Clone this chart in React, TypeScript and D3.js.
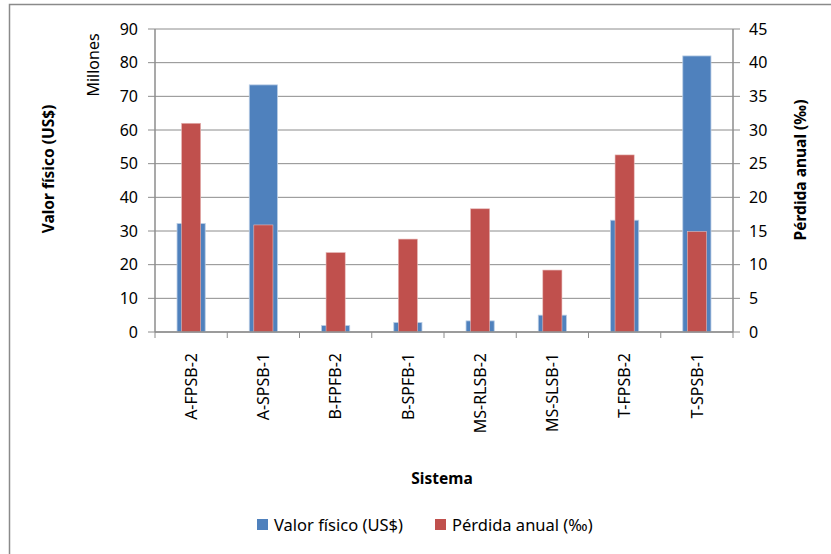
import * as d3 from "d3";
import React from "react";

const categories = [
  "A-FPSB-2",
  "A-SPSB-1",
  "B-FPFB-2",
  "B-SPFB-1",
  "MS-RLSB-2",
  "MS-SLSB-1",
  "T-FPSB-2",
  "T-SPSB-1",
];
// Valor físico (US$), millones
const valorFisico = [32.2, 73.4, 1.9, 2.8, 3.3, 5.0, 33.2, 82.0];
// Pérdida anual (‰)
const perdidaAnual = [31.0, 15.9, 11.8, 13.8, 18.3, 9.2, 26.3, 14.9];
const leftTicks = [0, 10, 20, 30, 40, 50, 60, 70, 80, 90];
const rightTicks = [0, 5, 10, 15, 20, 25, 30, 35, 40, 45];

const W = 831;
const H = 554;
const plot = { left: 155, right: 733, top: 29, bottom: 332 };
const font = "'Noto Sans', 'Open Sans', sans-serif";
const blue = "#4F81BD";
const red = "#C0504D";
const grid = "#8C8C8C";

const App = () => {
  const x = d3
    .scaleBand()
    .domain(categories)
    .range([plot.left, plot.right])
    .padding(0);
  const yL = d3.scaleLinear().domain([0, 90]).range([plot.bottom, plot.top]);
  const yR = d3.scaleLinear().domain([0, 45]).range([plot.bottom, plot.top]);

  const bw = x.bandwidth();
  const blueW = bw * 0.39;
  const redW = bw * 0.265;

  return (
    <svg
      width={W}
      height={H}
      style={{ position: "absolute", left: 0, top: 0, background: "#fff" }}
      fontFamily={font}
    >
      {/* frame */}
      <rect x={9.5} y={4.5} width={W} height={H} fill="none" stroke="#8a8a8a" strokeWidth={1.5} />

      {/* gridlines */}
      {leftTicks.map((t) => (
        <line key={"g" + t} x1={plot.left} x2={plot.right} y1={yL(t)} y2={yL(t)} stroke={grid} strokeWidth={1} />
      ))}

      {/* bars */}
      {categories.map((c, i) => {
        const cx = (x(c) as number) + bw / 2;
        return (
          <g key={c}>
            <rect
              x={cx - blueW / 2}
              y={yL(valorFisico[i])}
              width={blueW}
              height={plot.bottom - yL(valorFisico[i])}
              fill={blue}
              stroke="#b8cce4"
              strokeWidth={0.8}
            />
            <rect
              x={cx - redW / 2}
              y={yR(perdidaAnual[i])}
              width={redW}
              height={plot.bottom - yR(perdidaAnual[i])}
              fill={red}
              stroke="#e6b9b8"
              strokeWidth={0.6}
            />
          </g>
        );
      })}

      {/* axes */}
      <line x1={plot.left} x2={plot.left} y1={plot.top} y2={plot.bottom} stroke={grid} strokeWidth={1.5} />
      <line x1={plot.right} x2={plot.right} y1={plot.top} y2={plot.bottom} stroke={grid} strokeWidth={1.5} />
      <line x1={plot.left} x2={plot.right} y1={plot.bottom} y2={plot.bottom} stroke={grid} strokeWidth={1.5} />

      {leftTicks.map((t) => (
        <g key={"l" + t}>
          <line x1={plot.left - 7} x2={plot.left} y1={yL(t)} y2={yL(t)} stroke={grid} strokeWidth={1} />
          <text x={138} y={yL(t)} dy="0.36em" textAnchor="end" fontSize={16} fill="#000">
            {t}
          </text>
        </g>
      ))}
      {rightTicks.map((t) => (
        <g key={"r" + t}>
          <line x1={plot.right} x2={plot.right + 7} y1={yR(t)} y2={yR(t)} stroke={grid} strokeWidth={1} />
          <text x={749} y={yR(t)} dy="0.36em" textAnchor="start" fontSize={16} fill="#000">
            {t}
          </text>
        </g>
      ))}

      {/* category ticks and labels */}
      {categories.map((c) => (
        <line
          key={"t" + c}
          x1={x(c) as number}
          x2={x(c) as number}
          y1={plot.bottom}
          y2={plot.bottom + 6}
          stroke={grid}
          strokeWidth={1}
        />
      ))}
      <line x1={plot.right} x2={plot.right} y1={plot.bottom} y2={plot.bottom + 6} stroke={grid} strokeWidth={1} />
      {categories.map((c) => {
        const cx = (x(c) as number) + bw / 2;
        return (
          <text
            key={"c" + c}
            transform={`translate(${cx},353) rotate(-90)`}
            dy="0.36em"
            textAnchor="end"
            fontSize={16}
            fill="#000"
          >
            {c}
          </text>
        );
      })}

      {/* axis titles */}
      <text transform="translate(48,169) rotate(-90)" dy="0.36em" textAnchor="middle" fontSize={15.5} fontWeight="bold">
        Valor físico  (US$)
      </text>
      <text transform="translate(93,65) rotate(-90)" dy="0.36em" textAnchor="middle" fontSize={16}>
        Millones
      </text>
      <text transform="translate(800,170) rotate(-90)" dy="0.36em" textAnchor="middle" fontSize={15.5} fontWeight="bold">
        Pérdida anual (‰)
      </text>
      <text x={442} y={478} dy="0.36em" textAnchor="middle" fontSize={15.5} fontWeight="bold">
        Sistema
      </text>

      {/* legend */}
      <rect x={257} y={519} width={11} height={11} fill={blue} />
      <text x={274} y={525} dy="0.36em" fontSize={16.5}>
        Valor físico (US$)
      </text>
      <rect x={435} y={519} width={11} height={11} fill={red} />
      <text x={452} y={525} dy="0.36em" fontSize={16.5}>
        Pérdida anual (‰)
      </text>
    </svg>
  );
};

export default App;
